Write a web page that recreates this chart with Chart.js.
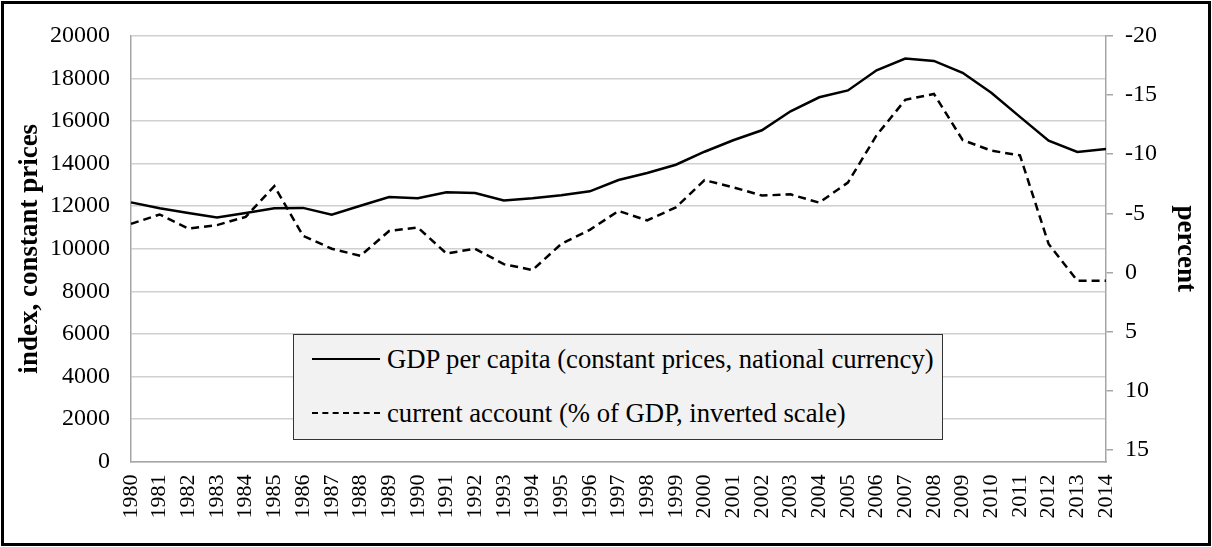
<!DOCTYPE html>
<html>
<head>
<meta charset="UTF-8">
<title>GDP per capita and current account</title>
<script src="https://cdn.jsdelivr.net/npm/chart.js"></script>
<style>
    body { margin: 0; background: #fff; }
    #wrap { position: relative; width: 1212px; height: 547px; }
    #frame {
        position: absolute; left: 1px; top: 1px; width: 1210px; height: 545px;
        box-sizing: border-box; border: 3px solid #000; pointer-events: none;
    }
    #legend {
        position: absolute; left: 293px; top: 334px; width: 650px; height: 106px;
        box-sizing: border-box; border: 1px solid #333; background: #f2f2f2;
        font-family: "Liberation Serif", "Times New Roman", serif; font-size: 26.7px; color: #000;
    }
    .row { position: absolute; left: 18px; height: 30px; display: flex; align-items: center; white-space: nowrap; }
    .swatch { width: 68px; margin-right: 7px; border-top: 2.5px solid #000; }
    .swatch.dash { border-top-style: dashed; }
</style>
</head>
<body>
<div id="wrap">
    <canvas id="chart" width="1212" height="547"></canvas>
    <div id="legend">
        <div class="row" style="top:9px"><span class="swatch"></span>GDP per capita (constant prices, national currency)</div>
        <div class="row" style="top:63px"><span class="swatch dash"></span>current account (% of GDP, inverted scale)</div>
    </div>
    <div id="frame"></div>
</div>
<script>
    // data
    const years = ['1980','1981','1982','1983','1984','1985','1986','1987','1988','1989',
                   '1990','1991','1992','1993','1994','1995','1996','1997','1998','1999',
                   '2000','2001','2002','2003','2004','2005','2006','2007','2008','2009',
                   '2010','2011','2012','2013','2014'];
    const gdpPerCapita = [12180,11900,11680,11470,11680,11900,11920,11600,12020,12430,
                          12370,12650,12620,12270,12370,12510,12700,13230,13560,13950,
                          14560,15100,15570,16460,17120,17440,18390,18940,18830,18270,
                          17330,16200,15080,14550,14690];
    const currentAccount = [-4.1,-4.9,-3.7,-4.0,-4.7,-7.3,-3.1,-2.0,-1.4,-3.5,
                            -3.8,-1.6,-2.0,-0.7,-0.2,-2.4,-3.6,-5.2,-4.4,-5.5,
                            -7.8,-7.2,-6.5,-6.6,-5.9,-7.6,-11.6,-14.6,-15.1,-11.2,
                            -10.3,-9.9,-2.4,0.7,0.7];

    const serif = "'Liberation Serif', 'Times New Roman', serif";
    const axisGray = '#a6a6a6';
    const gridGray = '#d0d0d0';

    new Chart(document.getElementById('chart'), {
        type: 'line',
        data: {
            labels: years,
            datasets: [{
                label: 'GDP per capita (constant prices, national currency)',
                data: gdpPerCapita,
                borderColor: '#000',
                borderWidth: 2.5,
                pointRadius: 0,
                tension: 0,
                yAxisID: 'y'
            }, {
                label: 'current account (% of GDP, inverted scale)',
                data: currentAccount,
                borderColor: '#000',
                borderWidth: 2.5,
                borderDash: [8, 5],
                pointRadius: 0,
                tension: 0,
                yAxisID: 'y1'
            }]
        },
        options: {
            responsive: false,
            animation: false,
            devicePixelRatio: 1,
            layout: { padding: { top: 36, left: 0, right: 0, bottom: 0 } },
            plugins: { legend: { display: false }, tooltip: { enabled: false } },
            scales: {
                x: {
                    grid: { display: false, drawTicks: false },
                    border: { display: true, color: axisGray, width: 1.5 },
                    ticks: {
                        color: '#000', font: { family: serif, size: 22 },
                        minRotation: 90, maxRotation: 90, autoSkip: false, padding: 13
                    },
                    afterFit: s => { s.height = 85.5; }
                },
                y: {
                    position: 'left',
                    min: 0, max: 20000,
                    grid: { color: gridGray, lineWidth: 1.5, drawTicks: false },
                    border: { display: true, color: axisGray, width: 1.5 },
                    ticks: {
                        stepSize: 2000, color: '#000', padding: 21,
                        font: { family: serif, size: 24 },
                        callback: v => String(v)
                    },
                    title: {
                        display: true, text: 'index, constant prices', color: '#000',
                        font: { family: serif, size: 27, weight: 'bold' },
                        padding: { top: 14, bottom: 0 }
                    },
                    afterFit: s => { s.width = 131; }
                },
                y1: {
                    position: 'right',
                    min: -20, max: 16, reverse: true,
                    grid: { drawOnChartArea: false, drawTicks: true, tickLength: 7, color: axisGray, lineWidth: 1.5 },
                    border: { display: true, color: axisGray, width: 1.5 },
                    ticks: {
                        stepSize: 5, includeBounds: false, color: '#000', padding: 12,
                        font: { family: serif, size: 24 }
                    },
                    title: {
                        display: true, text: 'percent', color: '#000',
                        font: { family: serif, size: 27, weight: 'bold' },
                        padding: { top: 11, bottom: 0 }
                    },
                    afterFit: s => { s.width = 106; }
                }
            }
        }
    });
</script>
</body>
</html>
